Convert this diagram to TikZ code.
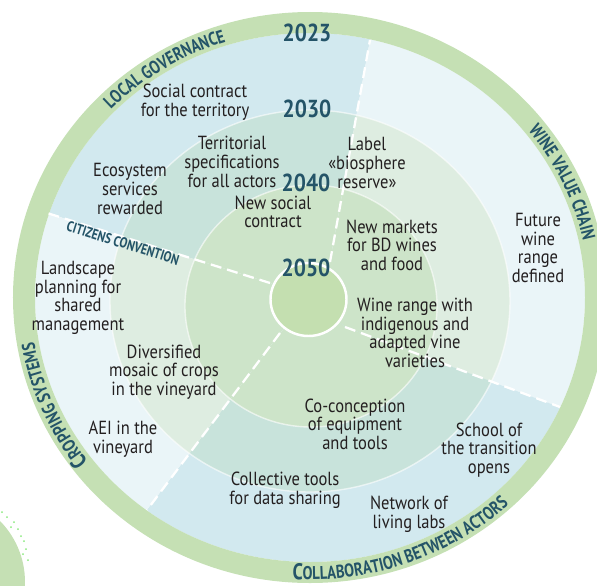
\documentclass[tikz,border=0pt]{standalone}
\usepackage{fontspec}
\setmainfont{PT Sans}[FakeStretch=0.87]
\newfontfamily\anellofont{PT Sans}[FakeStretch=0.8]
\usetikzlibrary{decorations.text}

\definecolor{anello}{HTML}{C5E0B4}
\definecolor{bluchiaro}{HTML}{D2E9EF}
\definecolor{bluverde}{HTML}{C8E3DB}
\definecolor{verdemedio}{HTML}{CDE4C9}
\definecolor{azzurrino}{HTML}{EAF5F8}
\definecolor{verdepallido}{HTML}{DEEDE1}
\definecolor{verdecentro}{HTML}{C4DFB0}
\definecolor{annoblu}{HTML}{245468}
\definecolor{testoscuro}{HTML}{231F20}

\newcommand\etichetta{\anellofont\fontsize{10.5}{10.5}\selectfont\bfseries\color{annoblu}}
\newcommand\iniziale{\anellofont\fontsize{13}{13}\selectfont\bfseries\color{annoblu}}

\begin{document}
\begin{tikzpicture}[x=0.2mm, y=0.2mm,
    testo/.style={align=center, font=\fontsize{10.8}{10.6}\selectfont, text=testoscuro, inner sep=0pt},
    anno/.style={font=\fontsize{14}{14}\selectfont\bfseries, text=annoblu, inner sep=0pt},
    divisore/.style={white, line width=1.3pt, dash pattern=on 2.2mm off 1.2mm},
    bordo/.style={white, opacity=0.6, line width=0.8pt}]
    \useasboundingbox (-310,-287) rectangle (287,298);
    \clip (-310,-287) rectangle (287,298);

    % Settori
    \begin{scope}
        \clip (0,0) -- (-40,15) -- (-330,106) -- (-330,330) -- (73,330) -- (20,36) -- cycle;
        \fill[bluchiaro] (0,0.5) ellipse [x radius=275, y radius=264.5];
        \fill[bluverde] (0,-3) ellipse [x radius=200, y radius=191];
        \fill[verdemedio] (1,-8) ellipse [x radius=126, y radius=121];
    \end{scope}
    \begin{scope}
        \clip (0,0) -- (20,36) -- (73,330) -- (330,330) -- (330,-139) -- (35,-29) -- cycle;
        \fill[azzurrino] (0,0.5) ellipse [x radius=275, y radius=264.5];
        \fill[verdepallido] (0,-3) ellipse [x radius=200, y radius=191];
        \fill[verdemedio] (1,-8) ellipse [x radius=126, y radius=121];
    \end{scope}
    \begin{scope}
        \clip (0,0) -- (35,-29) -- (330,-139) -- (330,-330) -- (-252,-330) -- (-30,-35) -- cycle;
        \fill[bluchiaro] (0,0.5) ellipse [x radius=275, y radius=264.5];
        \fill[bluverde] (0,-3) ellipse [x radius=200, y radius=191];
        \fill[verdemedio] (1,-8) ellipse [x radius=126, y radius=121];
    \end{scope}
    \begin{scope}
        \clip (0,0) -- (-30,-35) -- (-252,-330) -- (-330,-330) -- (-330,106) -- (-40,15) -- cycle;
        \fill[azzurrino] (0,0.5) ellipse [x radius=275, y radius=264.5];
        \fill[verdepallido] (0,-3) ellipse [x radius=200, y radius=191];
        \fill[verdemedio] (1,-8) ellipse [x radius=126, y radius=121];
    \end{scope}

    % Anello esterno e cerchi
    \fill[anello, even odd rule] (0,0.5) ellipse [x radius=297, y radius=285.5]
        (0,0.5) ellipse [x radius=275, y radius=264.5];
    \draw[bordo] (0,-3) ellipse [x radius=200, y radius=191];
    \draw[bordo] (1,-8) ellipse [x radius=126, y radius=121];
    \draw[white, line width=1.4pt, fill=verdecentro] (-1.5,-1.5) ellipse [x radius=38, y radius=36.5];

    % Macchia in basso a sinistra
    \fill[anello] (-372,-284) circle [radius=87];
    \foreach \p in {(-308,-214),(-303,-219),(-296,-224),(-299,-229),(-292,-231),(-289,-238),(-286,-243),(-284,-251),(-287,-256),(-282,-262)}
        \fill[anello!70!green] \p circle [radius=1];

    % Divisori
    \coordinate (gov_in) at (20,36);
    \coordinate (gov_out) at (60,258);
    \coordinate (cit_in) at (-40,15);
    \coordinate (cit_out) at (-263,85);
    \coordinate (crop_in) at (-30,-35);
    \coordinate (crop_out) at (-163,-212);
    \coordinate (coll_in) at (35,-29);
    \coordinate (coll_out) at (250,-109);
    \draw[divisore] (gov_in) -- (gov_out);
    \draw[divisore] (cit_in) -- (cit_out);
    \draw[divisore] (crop_in) -- (crop_out);
    \draw[divisore] (coll_in) -- (coll_out);

    % Etichette sull'anello
    \path[decorate, decoration={text along path, text align=center,
        text={|\etichetta|LOCAL GOVERNANCE}}]
        (172:279.5 and 268.5) arc [start angle=172, end angle=72, x radius=279.5, y radius=268.5];
    \path[decorate, decoration={text along path, text align=center,
        text={|\etichetta|WINE VALUE CHAIN}}]
        (75:279.5 and 268.5) arc [start angle=75, end angle=-25, x radius=279.5, y radius=268.5];
    \path[decorate, decoration={text along path, text align=center,
        text={|\iniziale|C|\etichetta|ROPPING SYSTEMS}}]
        (253:279.5 and 268.5) arc [start angle=253, end angle=153, x radius=279.5, y radius=268.5];
    \path[decorate, decoration={text along path, text align=center,
        text={|\iniziale|C|\etichetta|OLLABORATION BETWEEN ACTORS}}]
        (240:292.5 and 281.5) arc [start angle=240, end angle=340, x radius=292.5, y radius=281.5];
    \node[rotate=-17.4, font=\anellofont\fontsize{8.3}{9}\selectfont\bfseries, text=annoblu, inner sep=0pt]
        (citizens) at (-187,55) {CITIZENS CONVENTION};

    % Anni
    \node[anno] (anno_2023) at (-3,265) {2023};
    \node[anno] (anno_2030) at (-3,189) {2030};
    \node[anno] (anno_2040) at (-4,115) {2040};
    \node[anno] (anno_2050) at (-4,30) {2050};

    % Obiettivi
    \node[testo] (social_contract) at (-115,196) {Social contract\\for the territory};
    \node[testo] (territorial_spec) at (-78,136) {Territorial\\specifications\\for all actors};
    \node[testo] (ecosystem) at (-180,109) {Ecosystem\\services\\rewarded};
    \node[testo] (new_contract) at (-37,86) {New social\\contract};
    \node[testo] (label_bio) at (57,135) {Label\\«biosphere\\reserve»};
    \node[testo] (new_markets) at (82,53) {New markets\\for BD wines\\and food};
    \node[testo] (future_wine) at (228,50) {Future\\wine\\range\\defined};
    \node[testo] (landscape) at (-232,0) {Landscape\\planning for\\shared\\management};
    \node[testo] (mosaic) at (-146,-74) {Diversified\\mosaic of crops\\in the vineyard};
    \node[testo] (aei) at (-187,-141) {AEI in the\\vineyard};
    \node[testo] (wine_range) at (105,-35) {Wine range with\\indigenous and\\adapted vine\\varieties};
    \node[testo] (co_conception) at (45,-126) {Co-conception\\of equipment\\and tools};
    \node[testo] (school) at (179,-152) {School of\\the transition\\opens};
    \node[testo] (collective_tools) at (-25,-192) {Collective tools\\for data sharing};
    \node[testo] (living_labs) at (99,-216) {Network of\\living labs};
\end{tikzpicture}
\end{document}
